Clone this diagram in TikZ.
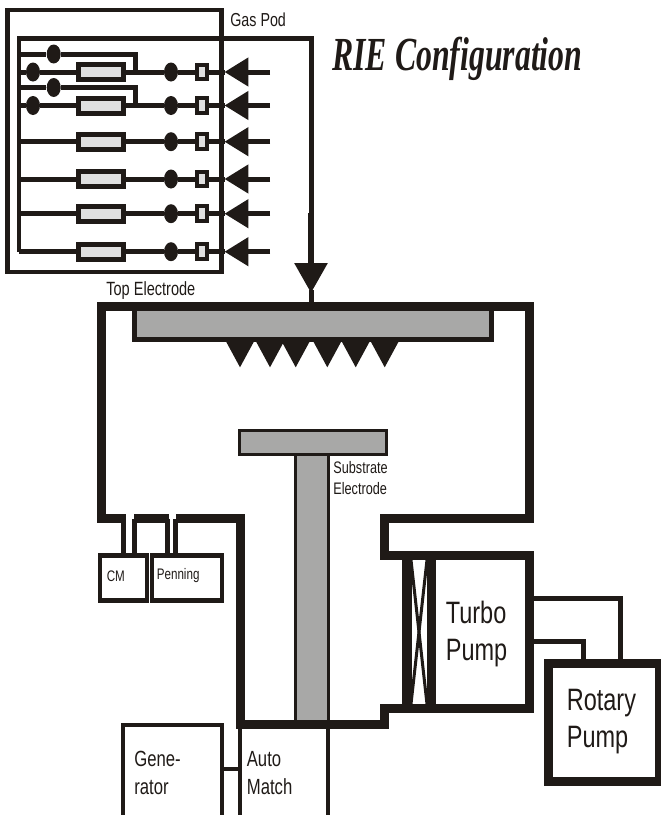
\documentclass[tikz,border=0pt]{standalone}
\usepackage{fontspec}
\setmainfont[FakeStretch=0.76]{Liberation Sans}
\newfontfamily\titlefont[FakeStretch=0.67]{Liberation Serif}
\usetikzlibrary{arrows.meta,shapes.geometric}

\definecolor{RIEblack}{RGB}{31,26,23}
\definecolor{RIEgray}{RGB}{168,168,167}
\definecolor{RIElight}{RGB}{224,224,224}

\tikzset{
  wall/.style={draw=RIEblack, line width=0.18cm, miter limit=4},
  gasline/.style={draw=RIEblack, line width=0.1cm},
  tube/.style={draw=RIEblack, line width=0.1cm},
  feed/.style={draw=RIEblack, line width=0.1cm, -{Triangle[length=0.48cm,width=0.56cm]}},
  mfc/.style={draw=RIEblack, fill=RIElight, line width=0.1cm, minimum width=0.89cm, minimum height=0.3cm, inner sep=0pt},
  ball/.style={ellipse, fill=RIEblack, minimum width=0.28cm, minimum height=0.38cm, inner sep=0pt},
  filter/.style={draw=RIEblack, fill=RIElight, line width=0.08cm, minimum width=0.2cm, minimum height=0.29cm, inner sep=0pt},
  thinbox/.style={draw=RIEblack, line width=0.095cm, inner sep=0pt},
  label/.style={text=RIEblack, inner sep=0pt, anchor=west},
  lab small/.style={label, font=\fontsize{9.5}{11.5}\selectfont, align=left},
  lab gauge/.style={label, font=\fontsize{8.7}{10}\selectfont, align=left},
  lab wide/.style={label, font=\fontsize{10.7}{13}\selectfont},
  lab mid/.style={label, font=\fontsize{12.5}{15.7}\selectfont, align=left},
  lab big/.style={label, font=\fontsize{17.6}{21}\selectfont, align=left}
}

\begin{document}
\begin{tikzpicture}[x=0.02cm, y=-0.02cm]
\useasboundingbox (0,0) rectangle (661,815);

% ======================= GAS POD =======================
\node[thinbox, minimum width=4.29cm, minimum height=5.24cm] (pod) at (114.5,141) {};
\node[lab wide] (podlabel) at (230,20) {Gas Pod};
\node[text=RIEblack, inner sep=0pt, anchor=base west, font=\titlefont\bfseries\itshape\fontsize{27}{30}\selectfont] (title) at (332,70) {RIE Configuration};

% Sammelleitung
\coordinate (manTop) at (19,38);
\coordinate (manBottom) at (19,251.7);
\coordinate (manRight) at (311,38);
\coordinate (inlet) at (311,213);
\draw[gasline] (manBottom) -- (manTop) -- (manRight) -- (inlet);

% Zeile 1
\coordinate (manA) at (19,72);
\coordinate (tipA) at (224.5,72);
\coordinate (inA) at (270,72);
\node[mfc] (mfcA) at (101,72) {};
\node[ball] (ballA) at (171,72) {};
\node[filter] (filterA) at (202,72) {};
\node[ball] (leftA) at (33,72) {};
\draw[gasline] (manA) -- (leftA) -- (mfcA) -- (ballA) -- (filterA) -- (tipA);
\draw[feed] (inA) -- (tipA);

% Zeile 2
\coordinate (manB) at (19,105.5);
\coordinate (tipB) at (224.5,105.5);
\coordinate (inB) at (270,105.5);
\node[mfc] (mfcB) at (101,105.5) {};
\node[ball] (ballB) at (171,105.5) {};
\node[filter] (filterB) at (202,105.5) {};
\node[ball] (leftB) at (33,105.5) {};
\draw[gasline] (manB) -- (leftB) -- (mfcB) -- (ballB) -- (filterB) -- (tipB);
\draw[feed] (inB) -- (tipB);

% Zeile 3
\coordinate (manC) at (19,141.7);
\coordinate (tipC) at (224.5,141.7);
\coordinate (inC) at (270,141.7);
\node[mfc] (mfcC) at (101,141.7) {};
\node[ball] (ballC) at (171,141.7) {};
\node[filter] (filterC) at (202,141.7) {};
\draw[gasline] (manC) -- (mfcC) -- (ballC) -- (filterC) -- (tipC);
\draw[feed] (inC) -- (tipC);

% Zeile 4
\coordinate (manD) at (19,179);
\coordinate (tipD) at (224.5,179);
\coordinate (inD) at (270,179);
\node[mfc] (mfcD) at (101,179) {};
\node[ball] (ballD) at (171,179) {};
\node[filter] (filterD) at (202,179) {};
\draw[gasline] (manD) -- (mfcD) -- (ballD) -- (filterD) -- (tipD);
\draw[feed] (inD) -- (tipD);

% Zeile 5
\coordinate (manE) at (19,213.7);
\coordinate (tipE) at (224.5,213.7);
\coordinate (inE) at (270,213.7);
\node[mfc] (mfcE) at (101,213.7) {};
\node[ball] (ballE) at (171,213.7) {};
\node[filter] (filterE) at (202,213.7) {};
\draw[gasline] (manE) -- (mfcE) -- (ballE) -- (filterE) -- (tipE);
\draw[feed] (inE) -- (tipE);

% Zeile 6
\coordinate (tipF) at (224.5,251.7);
\coordinate (inF) at (270,251.7);
\node[mfc] (mfcF) at (101,251.7) {};
\node[ball] (ballF) at (171,251.7) {};
\node[filter] (filterF) at (202,251.7) {};
\draw[gasline] (manBottom) -- (mfcF) -- (ballF) -- (filterF) -- (tipF);
\draw[feed] (inF) -- (tipF);

% Bypass ueber den ersten beiden Zeilen
\coordinate (byA) at (19,54);
\coordinate (byAright) at (135,54);
\coordinate (byAdown) at (135,72);
\node[ball] (byballA) at (53.7,54) {};
\draw[gasline] (byA) -- (byballA) -- (byAright) -- (byAdown);
\coordinate (byB) at (19,87.5);
\coordinate (byBright) at (135,87.5);
\coordinate (byBdown) at (135,105.5);
\node[ball] (byballB) at (53.7,87.5) {};
\draw[gasline] (byB) -- (byballB) -- (byBright) -- (byBdown);

% Zuleitung zur Top Electrode
\coordinate (chamberIn) at (311,302);
\draw[draw=RIEblack, line width=0.12cm, -{Triangle[length=0.6cm,width=0.64cm]}] (inlet) -- (311,293);
\draw[gasline] (311,290) -- (chamberIn);

% ======================= KAMMER =======================
% Top Electrode
\filldraw[fill=RIEgray, draw=RIEblack, line width=0.1cm] (134.5,306) rectangle (491.5,339);
\node[lab wide, font=\fontsize{10.9}{13}\selectfont] (toplabel) at (106,291) {Top Electrode};

% Duschkopf
\fill[RIEblack] (226.3,342) -- (240,367.3) -- (253.7,342) -- cycle;
\fill[RIEblack] (256.3,342) -- (270,367.3) -- (283.7,342) -- cycle;
\fill[RIEblack] (282,342) -- (295.7,367.3) -- (309.4,342) -- cycle;
\fill[RIEblack] (313.6,342) -- (327.3,367.3) -- (341,342) -- cycle;
\fill[RIEblack] (342,342) -- (355.7,367.3) -- (369.4,342) -- cycle;
\fill[RIEblack] (371,342) -- (384.7,367.3) -- (398.4,342) -- cycle;

% Substrate Electrode
\filldraw[fill=RIEgray, draw=RIEblack, line width=0.06cm] (295.5,454) rectangle (328,724);
\filldraw[fill=RIEgray, draw=RIEblack, line width=0.06cm] (239,430) rectangle (386,454.5);
\node[lab small] (sublabel) at (333,478) {Substrate\\Electrode};

% Waende
\draw[wall] (125.5,518.5) -- (101,518.5) -- (101,306) -- (529.5,306) -- (529.5,518.7) -- (384.7,518.7) -- (384.7,555.7) -- (534,555.7);
\draw[wall] (134,518.5) -- (169,518.5);
\draw[wall] (176,518.5) -- (240.5,518.5) -- (240.5,724.7) -- (384.7,724.7) -- (384.7,708.7) -- (534,708.7);

% ======================= MESSROEHREN =======================
\node[thinbox, minimum width=0.94cm, minimum height=0.9cm] (CM) at (123.6,578) {};
\node[thinbox, minimum width=1.4cm, minimum height=0.9cm] (Penning) at (187,578) {};
\node[lab gauge] (CMlabel) at (106.5,576) {CM};
\node[lab gauge] (Penninglabel) at (156.5,576) {Penning};
\coordinate (portA) at (123,518.5);
\coordinate (portB) at (134.7,518.5);
\coordinate (portC) at (167,518.5);
\coordinate (portD) at (175.5,518.5);
\draw[tube] (portA) -- (portA |- CM.north);
\draw[tube] (portB) -- (portB |- CM.north);
\draw[tube] (portC) -- (portC |- Penning.north);
\draw[tube] (portD) -- (portD |- Penning.north);

% ======================= TURBO + VENTIL =======================
\node[draw=RIEblack, line width=0.19cm, minimum width=1.966cm, minimum height=3.06cm, inner sep=0pt] (turbo) at (480.5,632.2) {};
\node[lab big] (turbolabel) at (445.5,634) {Turbo\\Pump};
\draw[draw=RIEblack, line width=0.19cm] (407,551) -- (407,713);
\draw[draw=RIEblack, line width=0.06cm] (411,560) -- (427,704);
\draw[draw=RIEblack, line width=0.06cm] (427,560) -- (411,704);

% ======================= ROTARY =======================
\node[draw=RIEblack, line width=0.19cm, minimum width=2.216cm, minimum height=2.36cm, inner sep=0pt] (rotary) at (604,722.3) {};
\node[lab big] (rotarylabel) at (566.5,722) {Rotary\\Pump};
\coordinate (forelineA) at (620,598);
\coordinate (forelineB) at (583,641.5);
\draw[tube] (turbo.east |- forelineA) -- (forelineA) -- (forelineA |- rotary.north);
\draw[tube] (turbo.east |- forelineB) -- (forelineB) -- (forelineB |- rotary.north);

% ======================= RF =======================
\node[thinbox, minimum width=1.98cm, minimum height=2cm] (generator) at (172.5,775) {};
\node[lab mid] (generatorlabel) at (134,773) {Gene-\\rator};
\node[thinbox, minimum width=1.76cm, minimum height=2cm] (match) at (284,775) {};
\node[lab mid] (matchlabel) at (246.5,773) {Auto\\Match};
\draw[tube, line width=0.08cm] (generator.east |- 0,769) -- (match.west |- 0,769);

\end{tikzpicture}
\end{document}
